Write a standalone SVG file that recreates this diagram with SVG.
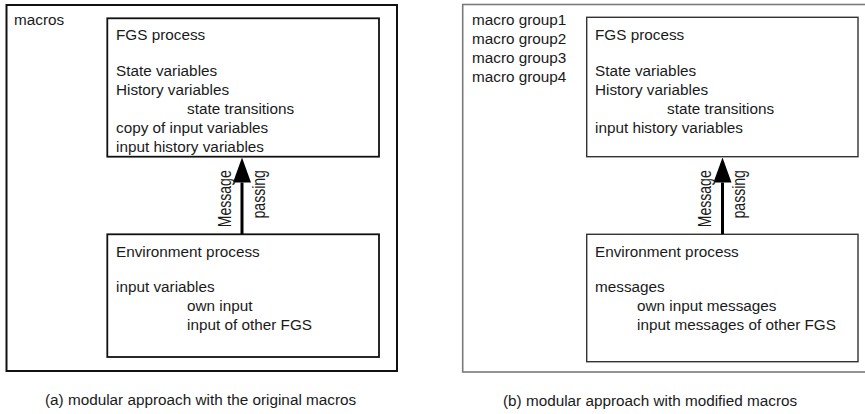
<svg xmlns="http://www.w3.org/2000/svg" width="865" height="414" viewBox="0 0 865 414">
  <style>
    text { font-family: "Liberation Sans", Arial, Helvetica, sans-serif; font-size: 15.3px; fill: #1a1a1a; }
    .frameA { fill: none; stroke: #111; stroke-width: 2; }
    .boxA { fill: #fff; stroke: #111; stroke-width: 1.8; }
    .frameB { fill: none; stroke: #7a7a7a; stroke-width: 1.6; }
    .boxB { fill: #fff; stroke: #333; stroke-width: 1.4; }
    .shaft { fill: none; stroke: #000; stroke-width: 3; }
    .vlabel { font-size: 19px; }
  </style>
  <defs>
    <marker id="head" markerUnits="userSpaceOnUse" viewBox="0 0 25 18" markerWidth="25" markerHeight="18" refX="0" refY="9" orient="auto">
      <path d="M0,0 L25,9 L0,18 Z" fill="#000"/>
    </marker>
  </defs>

  <!-- (a) modular approach with the original macros -->
  <g id="panel-a">
    <rect class="frameA" x="6.5" y="5" width="390.5" height="366"/>
    <text x="14" y="25">macros</text>
  </g>
  <g id="fgs-a">
    <rect class="boxA" x="107.3" y="18.3" width="271.7" height="138.4"/>
    <text x="116" y="39.5">FGS process</text>
    <text x="116" y="75.5">State variables</text>
    <text x="116" y="94.5">History variables</text>
    <text x="187" y="113.5">state transitions</text>
    <text x="116" y="132.5">copy of input variables</text>
    <text x="116" y="151.5">input history variables</text>
  </g>
  <g id="env-a">
    <rect class="boxA" x="107.3" y="234.3" width="271.7" height="122.7"/>
    <text x="116" y="257">Environment process</text>
    <text x="116" y="292">input variables</text>
    <text x="187" y="311">own input</text>
    <text x="187" y="329.5">input of other FGS</text>
  </g>
  <text x="45" y="404.5">(a) modular approach with the original macros</text>

  <!-- (b) modular approach with modified macros -->
  <g id="panel-b">
    <rect class="frameB" x="462.7" y="4.5" width="410" height="367.5"/>
    <text x="472" y="25">macro group1</text>
    <text x="472" y="44">macro group2</text>
    <text x="472" y="63">macro group3</text>
    <text x="472" y="82">macro group4</text>
  </g>
  <g id="fgs-b">
    <rect class="boxB" x="586.7" y="17.3" width="271.3" height="139.4"/>
    <text x="595" y="39.5">FGS process</text>
    <text x="595" y="75.5">State variables</text>
    <text x="595" y="94.5">History variables</text>
    <text x="667" y="113.5">state transitions</text>
    <text x="595" y="132.5">input history variables</text>
  </g>
  <g id="env-b">
    <rect class="boxB" x="586.7" y="234.3" width="271.3" height="127.4"/>
    <text x="595" y="257">Environment process</text>
    <text x="595" y="292">messages</text>
    <text x="637" y="311">own input messages</text>
    <text x="637" y="329.5">input messages of other FGS</text>
  </g>
  <text x="503" y="405.5">(b) modular approach with modified macros</text>

  <!-- message passing connectors -->
  <g id="connectors">
    <line class="shaft" x1="242" y1="234" x2="242" y2="182.5" marker-end="url(#head)"/>
    <text class="vlabel" transform="translate(230.5,227.3) rotate(-90) scale(0.74,1)">Message</text>
    <text class="vlabel" transform="translate(264.5,218.5) rotate(-90) scale(0.74,1)">passing</text>

    <line class="shaft" x1="722.5" y1="234" x2="722.5" y2="182.5" marker-end="url(#head)"/>
    <text class="vlabel" transform="translate(710.5,227.3) rotate(-90) scale(0.74,1)">Message</text>
    <text class="vlabel" transform="translate(744.5,218.5) rotate(-90) scale(0.74,1)">passing</text>
  </g>
</svg>
